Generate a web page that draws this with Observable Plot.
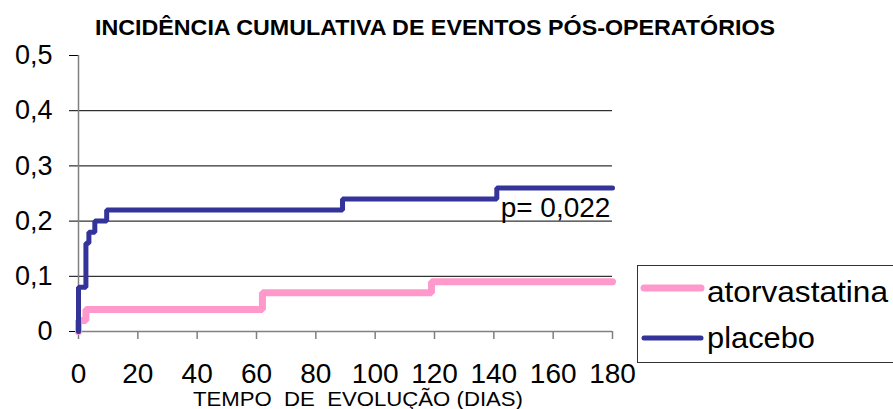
<!DOCTYPE html>
<html>
<head>
<meta charset="utf-8">
<script src="https://cdn.jsdelivr.net/npm/d3@7"></script>
<script src="https://cdn.jsdelivr.net/npm/@observablehq/plot@0.6"></script>
<style>
  html, body { margin: 0; padding: 0; background: #fff; }
  svg { font-family: "Liberation Sans", Arial, sans-serif; }
</style>
</head>
<body>
<div id="chart"></div>
<script>
const titleText = "INCIDÊNCIA CUMULATIVA DE EVENTOS PÓS-OPERATÓRIOS";
const xTitle = "TEMPO  DE  EVOLUÇÃO (DIAS)";
const pText = "p= 0,022";
const seriesNames = ["atorvastatina", "placebo"];
const seriesColors = ["#FF99CC", "#333399"];
const xTicks = [0, 20, 40, 60, 80, 100, 120, 140, 160, 180];
const yTicks = [0, 0.1, 0.2, 0.3, 0.4, 0.5];
const gridValues = [0.1, 0.2, 0.3, 0.4];

const atorvaDays = [0, 0, 2.5, 62, 119, 180];
const atorvaValues = [0, 0.02, 0.04, 0.07, 0.09, 0.09];
const placeboDays = [0, 0, 2.5, 3.5, 5.5, 9.5, 89, 141, 180];
const placeboValues = [0, 0.08, 0.16, 0.18, 0.20, 0.22, 0.24, 0.26, 0.26];

const atorva = atorvaDays.map((d, i) => ({day: d, value: atorvaValues[i]}));
const placebo = placeboDays.map((d, i) => ({day: d, value: placeboValues[i]}));

const fmt = d => d === 0 ? "0" : d.toFixed(1).replace(".", ",");

const plot = Plot.plot({
  width: 893,
  height: 409,
  marginLeft: 78,
  marginRight: 281,
  marginTop: 55,
  marginBottom: 78,
  style: {fontFamily: '"Liberation Sans", Arial, sans-serif', color: "black", background: "white"},
  x: {domain: [0, 180]},
  y: {domain: [0, 0.5]},
  marks: [
    Plot.ruleY(gridValues, {stroke: "black", strokeWidth: 1}),
    Plot.axisX(xTicks, {tickSize: 8, tickFormat: () => "", stroke: "#808080", strokeWidth: 1.5, label: null}),
    Plot.axisX(xTicks, {tickSize: 0, tickPadding: 32, fontSize: 28, label: null, fill: "black"}),
    Plot.axisY(yTicks, {tickSize: 9, tickPadding: 17, fontSize: 27, tickFormat: fmt, stroke: "black", label: null, fill: "black"}),
    Plot.ruleX([0], {stroke: "#808080", strokeWidth: 1.5}),
    Plot.ruleY([0], {stroke: "#808080", strokeWidth: 1.5}),
    Plot.line(atorva, {x: "day", y: "value", curve: "step-after", stroke: seriesColors[0], strokeWidth: 7, strokeLinecap: "round", strokeLinejoin: "miter"}),
    Plot.line(placebo, {x: "day", y: "value", curve: "step-after", stroke: seriesColors[1], strokeWidth: 5, strokeLinecap: "round", strokeLinejoin: "miter"}),
    Plot.text([pText], {x: 142.3, y: 0.208, text: d => d, textAnchor: "start", lineAnchor: "bottom", fontSize: 28, fill: "black"})
  ]
});

const svg = d3.select(plot);
// title
svg.append("text")
  .attr("x", 435).attr("y", 35)
  .attr("text-anchor", "middle")
  .attr("font-weight", "bold")
  .attr("font-size", 22)
  .attr("textLength", 680)
  .attr("lengthAdjust", "spacingAndGlyphs")
  .attr("fill", "black")
  .text(titleText);
// x title
svg.append("text")
  .attr("x", 358).attr("y", 406)
  .attr("text-anchor", "middle")
  .attr("font-size", 20)
  .attr("textLength", 330)
  .attr("lengthAdjust", "spacingAndGlyphs")
  .attr("fill", "black")
  .text(xTitle);
// legend
const lg = svg.append("g").attr("text-anchor", "start");
lg.append("rect").attr("x", 637.5).attr("y", 265.5).attr("width", 270).attr("height", 97)
  .attr("fill", "white").attr("stroke", "#333").attr("stroke-width", 1);
const lgY = [288, 338];
const lgW = [7, 5];
const lgBase = [302, 348];
const lgLen = [181, 108];
seriesNames.forEach((name, i) => {
  lg.append("line").attr("x1", 644).attr("x2", 701).attr("y1", lgY[i]).attr("y2", lgY[i])
    .attr("stroke", seriesColors[i]).attr("stroke-width", lgW[i]).attr("stroke-linecap", "round");
  lg.append("text").attr("x", 707).attr("y", lgBase[i]).attr("font-size", 30)
    .attr("textLength", lgLen[i]).attr("lengthAdjust", "spacingAndGlyphs")
    .attr("text-anchor", "start").attr("fill", "black").text(name);
});

document.getElementById("chart").appendChild(plot);
</script>
</body>
</html>
